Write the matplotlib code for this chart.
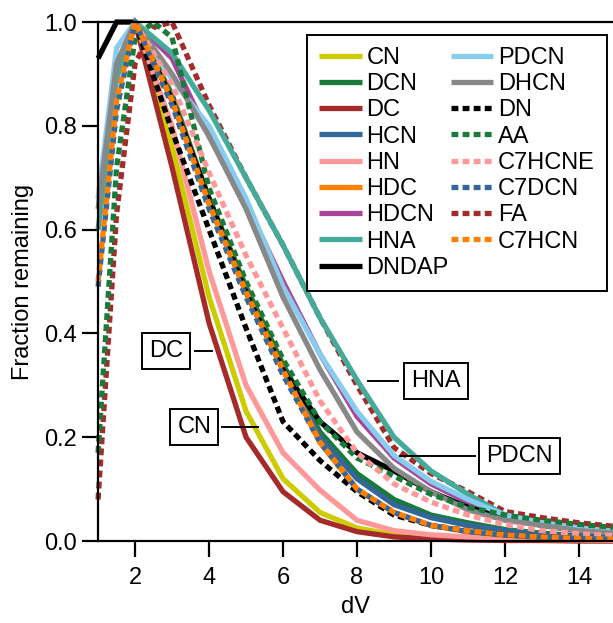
import numpy as np
import matplotlib
matplotlib.use("Agg")
from matplotlib import pyplot as plt

plt.rcParams['font.family'] = ['Liberation Sans', 'DejaVu Sans']

# common dV grid (peak at 2) and lead-in points for series measured from dV=1
dv = [2, 3, 4, 5, 6, 7, 8, 9, 10, 11, 12, 13, 14, 15]
dv_lead = [1, 1.5]
dv_acid = [1, 1.5, 2, 2.5, 3, 4, 5, 6, 7, 8, 9, 10, 11, 12, 13, 14, 15]

CN = [1.0, 0.76, 0.47, 0.25, 0.12, 0.055, 0.025, 0.012, 0.006, 0.003, 0.002, 0.001, 0.001, 0.0]
DCN = [1.0, 0.86, 0.66, 0.49, 0.34, 0.21, 0.13, 0.08, 0.05, 0.035, 0.022, 0.015, 0.01, 0.007]
DC = [1.0, 0.72, 0.42, 0.20, 0.095, 0.04, 0.018, 0.008, 0.004, 0.002, 0.001, 0.001, 0.0, 0.0]
HCN = [1.0, 0.85, 0.65, 0.48, 0.33, 0.20, 0.12, 0.07, 0.045, 0.03, 0.02, 0.012, 0.008, 0.005]
HN = [1.0, 0.80, 0.52, 0.30, 0.17, 0.098, 0.04, 0.02, 0.012, 0.008, 0.005, 0.003, 0.002, 0.001]
HDC = [1.0, 0.85, 0.66, 0.48, 0.33, 0.19, 0.10, 0.055, 0.03, 0.018, 0.011, 0.007, 0.005, 0.003]
HDCN = [1.0, 0.93, 0.78, 0.65, 0.50, 0.36, 0.24, 0.16, 0.11, 0.075, 0.05, 0.035, 0.025, 0.018]
HNA = [1.0, 0.94, 0.83, 0.70, 0.57, 0.43, 0.31, 0.20, 0.135, 0.09, 0.05, 0.035, 0.025, 0.018]
DNDAP = [1.0, 0.85, 0.66, 0.48, 0.33, 0.23, 0.17, 0.135, 0.095, 0.065, 0.045, 0.03, 0.02, 0.015]
PDCN = [1.0, 0.89, 0.80, 0.66, 0.49, 0.36, 0.25, 0.165, 0.115, 0.08, 0.05, 0.035, 0.025, 0.018]
DHCN = [1.0, 0.90, 0.78, 0.64, 0.47, 0.33, 0.21, 0.14, 0.095, 0.06, 0.04, 0.03, 0.02, 0.015]
DN = [1.0, 0.79, 0.60, 0.41, 0.23, 0.155, 0.095, 0.05, 0.03, 0.02, 0.012, 0.008, 0.005, 0.003]
C7HCNE = [1.0, 0.88, 0.71, 0.55, 0.41, 0.27, 0.17, 0.11, 0.075, 0.05, 0.032, 0.02, 0.014, 0.01]
C7DCN = [1.0, 0.84, 0.64, 0.47, 0.32, 0.19, 0.10, 0.055, 0.03, 0.018, 0.011, 0.007, 0.005, 0.003]
C7HCN = [1.0, 0.85, 0.65, 0.48, 0.33, 0.19, 0.10, 0.055, 0.03, 0.02, 0.012, 0.008, 0.005, 0.003]
AA = [0.17, 0.72, 0.97, 1.0, 0.97, 0.68, 0.50, 0.35, 0.23, 0.16, 0.125, 0.09, 0.065, 0.05, 0.04, 0.032, 0.026]
FA = [0.08, 0.63, 0.92, 0.99, 1.0, 0.84, 0.70, 0.57, 0.43, 0.30, 0.18, 0.13, 0.095, 0.057, 0.045, 0.035, 0.028]

# values at dV = 1 and 1.5 for the series that have them
lead = {
    "HNA": [0.60, 0.89],
    "DNDAP": [0.93, 1.0],
    "PDCN": [0.66, 0.95],
    "DHCN": [0.64, 0.92],
    "C7DCN": [0.49, 0.83],
    "C7HCN": [0.50, 0.85],
}

series = [
    ("CN", CN, "#cccc00", "-"),
    ("DCN", DCN, "#1a7a3a", "-"),
    ("DC", DC, "#a52a2a", "-"),
    ("HCN", HCN, "#336699", "-"),
    ("HN", HN, "#ff9999", "-"),
    ("HDC", HDC, "#ff7f00", "-"),
    ("HDCN", HDCN, "#aa4499", "-"),
    ("HNA", HNA, "#44aa99", "-"),
    ("DNDAP", DNDAP, "black", "-"),
    ("PDCN", PDCN, "#88ccee", "-"),
    ("DHCN", DHCN, "#888888", "-"),
    ("DN", DN, "black", ":"),
    ("AA", AA, "#1a7a3a", ":"),
    ("C7HCNE", C7HCNE, "#ff9999", ":"),
    ("C7DCN", C7DCN, "#336699", ":"),
    ("FA", FA, "#a52a2a", ":"),
    ("C7HCN", C7HCN, "#ff7f00", ":"),
]

# boxed labels: text, text position, pointer start/end x, pointer y
labels = [
    ("DC", 2.84, 0.366, 3.62, 4.08),
    ("CN", 3.60, 0.220, 4.35, 5.32),
    ("HNA", 10.14, 0.308, 8.30, 9.10),
    ("PDCN", 12.40, 0.164, 9.16, 11.2),
]

fig = plt.figure(figsize=(6.13, 6.23), dpi=100)
ax = fig.add_axes([0.16, 0.1316, 0.84, 0.833])

for name, vals, col, ls in series:
    if name in ("AA", "FA"):
        x = dv_acid
    elif name in lead:
        x = dv_lead + dv
        vals = lead[name] + vals
    else:
        x = dv
    # FA sits underneath the HNA line through the middle of the range
    z = 1.9 if name == "FA" else 2
    if ls == ":":
        ax.plot(x, vals, color=col, lw=3.8, linestyle=(0, (1.3, 0.8)),
                dash_capstyle="butt", label=name, clip_on=False, zorder=z)
    else:
        ax.plot(x, vals, color=col, lw=3.8, solid_capstyle="butt",
                solid_joinstyle="miter", label=name, clip_on=False, zorder=z)

for txt, tx, ty, x0, x1 in labels:
    ax.text(tx, ty, txt, fontsize=17, ha="center", va="center",
            bbox=dict(boxstyle="square,pad=0.3", fc="white", ec="black", lw=1.4))
    ax.plot([x0, x1], [ty, ty], color="black", lw=1.4)

ax.set_xlim(1, 14.92)
ax.set_ylim(0, 1.0)
ax.set_xticks([2, 4, 6, 8, 10, 12, 14])
ax.set_yticks([0.0, 0.2, 0.4, 0.6, 0.8, 1.0])
ax.set_yticklabels(["0.0", "0.2", "0.4", "0.6", "0.8", "1.0"])
ax.tick_params(direction="out", length=11.5, width=1.6, labelsize=17)
ax.tick_params(axis="y", pad=4)
ax.tick_params(axis="x", pad=7)
for side in ("left", "top", "bottom"):
    ax.spines[side].set_linewidth(1.6)
ax.spines["right"].set_visible(False)
ax.set_xlabel("dV", fontsize=17, labelpad=5)
ax.set_ylabel("Fraction remaining", fontsize=17, labelpad=7)

leg = ax.legend(ncol=2, loc="upper right", bbox_to_anchor=(0.988, 0.975),
                fontsize=17, frameon=True, fancybox=False, edgecolor="black",
                handlelength=1.8, handletextpad=0.2, labelspacing=0.18,
                columnspacing=0.1, borderpad=0.5, borderaxespad=0)
leg.get_frame().set_linewidth(1.4)
leg.get_frame().set_alpha(1)

fig.savefig("out.png", dpi=100)
